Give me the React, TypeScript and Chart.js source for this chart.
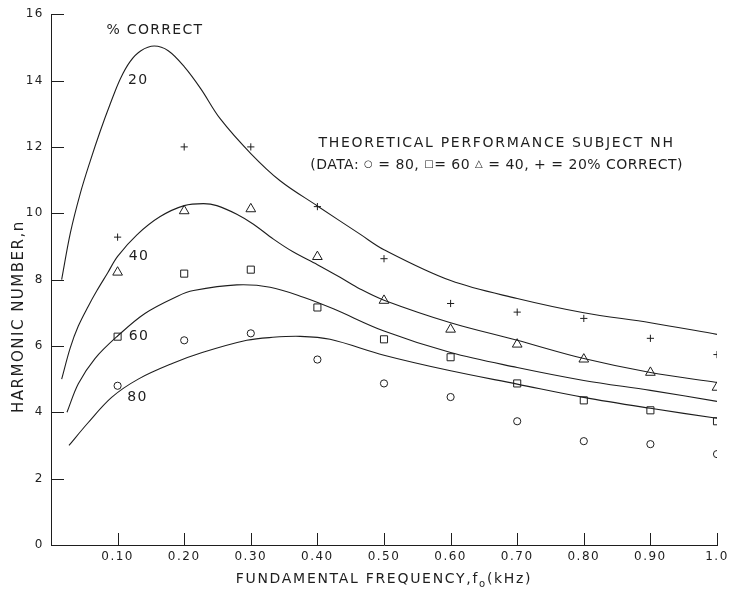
import React, { useEffect, useRef } from 'react';
import { Chart, registerables } from 'chart.js';

Chart.register(...registerables);

// Fundamental frequencies (kHz) at which the subject was tested
const FREQ_KHZ = [0.1, 0.2, 0.3, 0.4, 0.5, 0.6, 0.7, 0.8, 0.9, 1.0];

// Measured harmonic numbers for each performance level
const DATA_80 = [4.8, 6.17, 6.38, 5.59, 4.87, 4.46, 3.73, 3.13, 3.04, 2.74];
const DATA_60 = [6.28, 8.18, 8.3, 7.16, 6.2, 5.66, 4.87, 4.36, 4.06, 3.73];
const DATA_40 = [8.22, 10.07, 10.13, 8.69, 7.37, 6.5, 6.05, 5.6, 5.2, 4.75];
const DATA_20 = [9.28, 12.0, 12.0, 10.2, 8.63, 7.28, 7.02, 6.83, 6.23, 5.74];

// Theoretical performance curves (frequency, harmonic number)
const CURVE_20_X = [0.016, 0.029, 0.044, 0.059, 0.074, 0.089, 0.104, 0.119, 0.135, 0.155, 0.176, 0.2, 0.225, 0.254, 0.3, 0.344, 0.4, 0.464, 0.5, 0.6, 0.7, 0.8, 0.9, 1.0];
const CURVE_20_Y = [8.0, 9.4, 10.6, 11.58, 12.48, 13.3, 14.05, 14.58, 14.9, 15.04, 14.9, 14.42, 13.75, 12.85, 11.8, 10.98, 10.22, 9.37, 8.9, 7.97, 7.43, 7.0, 6.7, 6.35];

const CURVE_40_X = [0.016, 0.029, 0.041, 0.056, 0.069, 0.085, 0.1, 0.129, 0.164, 0.2, 0.229, 0.249, 0.279, 0.304, 0.334, 0.364, 0.4, 0.434, 0.464, 0.5, 0.6, 0.7, 0.8, 0.9, 1.0];
const CURVE_40_Y = [5.0, 5.95, 6.6, 7.2, 7.67, 8.2, 8.7, 9.35, 9.9, 10.23, 10.29, 10.23, 9.97, 9.67, 9.22, 8.83, 8.45, 8.07, 7.72, 7.38, 6.7, 6.17, 5.62, 5.2, 4.9];

const CURVE_60_X = [0.024, 0.041, 0.066, 0.1, 0.141, 0.19, 0.214, 0.279, 0.329, 0.379, 0.424, 0.5, 0.6, 0.7, 0.8, 0.9, 1.0];
const CURVE_60_Y = [4.0, 4.86, 5.62, 6.3, 6.98, 7.5, 7.67, 7.84, 7.77, 7.47, 7.12, 6.45, 5.8, 5.35, 4.96, 4.66, 4.33];

const CURVE_80_X = [0.027, 0.055, 0.091, 0.131, 0.182, 0.227, 0.294, 0.333, 0.374, 0.419, 0.5, 0.6, 0.7, 0.8, 0.9, 1.0];
const CURVE_80_Y = [3.0, 3.67, 4.45, 5.0, 5.47, 5.8, 6.17, 6.26, 6.29, 6.2, 5.72, 5.25, 4.85, 4.45, 4.12, 3.82];

// Curve labels, placed in data coordinates
const LABEL_TEXT = ['% CORRECT', '20', '40', '60', '80'];
const LABEL_X = [0.156, 0.131, 0.132, 0.132, 0.13];
const LABEL_Y = [15.5, 14.0, 8.69, 6.29, 4.45];

const NOTE_TITLE = 'THEORETICAL PERFORMANCE SUBJECT NH';
// second note line: plain text pieces alternate with the marker symbols
const NOTE_KEY = [
  { text: '(DATA: ', symbol: false },
  { text: '\u25CB', symbol: true },
  { text: ' = 80, ', symbol: false },
  { text: '\u25A1', symbol: true },
  { text: '= 60 ', symbol: false },
  { text: '\u25B3', symbol: true },
  { text: ' = 40, + = 20% CORRECT)', symbol: false },
];
const NOTE_X = 0.669;
const NOTE_Y = [12.12, 11.43];

const Y_TITLE = 'HARMONIC NUMBER,n';
const X_TITLE = ['FUNDAMENTAL FREQUENCY,f', 'o', '(kHz)'];

const INK = '#1e1e1e';
const FONT = '"DejaVu Sans", "Liberation Sans", sans-serif';

const toPoints = (xs: number[], ys: number[]) => xs.map((x, i) => ({ x, y: ys[i] }));

const letterSpacingPlugin = {
  id: 'letterSpacing',
  beforeDraw(chart: any) {
    chart.ctx.letterSpacing = '1.5px';
  },
};

// Tick marks that point into the plot area
const innerTicksPlugin = {
  id: 'innerTicks',
  afterDraw(chart: any) {
    const { ctx, chartArea, scales } = chart;
    const xs = scales.x;
    const ys = scales.y;
    ctx.save();
    ctx.strokeStyle = INK;
    ctx.lineWidth = 1;
    ctx.beginPath();
    for (const t of ys.ticks) {
      const py = Math.round(ys.getPixelForValue(t.value)) + 0.5;
      ctx.moveTo(chartArea.left, py);
      ctx.lineTo(chartArea.left + 13, py);
    }
    for (const t of xs.ticks) {
      if (t.value <= 0) continue;
      const px = Math.round(xs.getPixelForValue(t.value)) + 0.5;
      ctx.moveTo(px, chartArea.bottom);
      ctx.lineTo(px, chartArea.bottom - 12);
    }
    ctx.stroke();
    ctx.restore();
  },
};

const textPlugin = {
  id: 'chartText',
  afterDraw(chart: any) {
    const { ctx, chartArea, scales } = chart;
    const xs = scales.x;
    const ys = scales.y;
    ctx.save();
    ctx.fillStyle = INK;
    ctx.textBaseline = 'middle';
    ctx.textAlign = 'center';
    ctx.font = `14px ${FONT}`;
    ctx.letterSpacing = '1.3px';

    LABEL_TEXT.forEach((t, i) => {
      ctx.fillText(t, xs.getPixelForValue(LABEL_X[i]), ys.getPixelForValue(LABEL_Y[i]));
    });

    ctx.letterSpacing = '1.7px';
    ctx.fillText(NOTE_TITLE, xs.getPixelForValue(NOTE_X), ys.getPixelForValue(NOTE_Y[0]));

    // key line with small marker glyphs
    ctx.textAlign = 'left';
    ctx.letterSpacing = '0.5px';
    const textFont = `14px ${FONT}`;
    const symFont = `10px ${FONT}`;
    const widths = NOTE_KEY.map((p) => {
      ctx.font = p.symbol ? symFont : textFont;
      return ctx.measureText(p.text).width;
    });
    const keyWidth = widths.reduce((a, b) => a + b, 0);
    let kx = xs.getPixelForValue(NOTE_X) - keyWidth / 2;
    const ky = ys.getPixelForValue(NOTE_Y[1]);
    NOTE_KEY.forEach((p, i) => {
      ctx.font = p.symbol ? symFont : textFont;
      ctx.fillText(p.text, kx, p.symbol ? ky - 1 : ky);
      kx += widths[i];
    });

    // vertical axis title
    ctx.save();
    ctx.textAlign = 'center';
    ctx.font = `15px ${FONT}`;
    ctx.letterSpacing = '1.5px';
    ctx.translate(19, (chartArea.top + chartArea.bottom) / 2 + 37);
    ctx.rotate(-Math.PI / 2);
    ctx.fillText(Y_TITLE, 0, 0);
    ctx.restore();

    // horizontal axis title with subscript
    ctx.letterSpacing = '1.7px';
    ctx.textAlign = 'left';
    const big = `14px ${FONT}`;
    const small = `10px ${FONT}`;
    ctx.font = big;
    const w0 = ctx.measureText(X_TITLE[0]).width;
    const w2 = ctx.measureText(X_TITLE[2]).width;
    ctx.font = small;
    const w1 = ctx.measureText(X_TITLE[1]).width;
    const total = w0 + w1 + w2;
    const cx = (chartArea.left + chartArea.right) / 2;
    const ty = chartArea.bottom + 34;
    let px = cx - total / 2;
    ctx.font = big;
    ctx.fillText(X_TITLE[0], px, ty);
    px += w0;
    ctx.font = small;
    ctx.fillText(X_TITLE[1], px, ty + 5);
    px += w1;
    ctx.font = big;
    ctx.fillText(X_TITLE[2], px, ty);
    ctx.restore();
  },
};

const curve = (xs: number[], ys: number[]) => ({
  type: 'line' as const,
  data: toPoints(xs, ys),
  showLine: true,
  borderColor: INK,
  borderWidth: 1.1,
  pointRadius: 0,
  tension: 0.35,
  fill: false,
});

const markers = (ys: number[], style: string, radius: number) => ({
  type: 'scatter' as const,
  data: toPoints(FREQ_KHZ, ys),
  showLine: false,
  pointStyle: style,
  pointRadius: radius,
  pointBorderColor: INK,
  pointBackgroundColor: 'rgba(0,0,0,0)',
  pointBorderWidth: 1,
});

export default function App() {
  const canvasRef = useRef<HTMLCanvasElement | null>(null);

  useEffect(() => {
    const canvas = canvasRef.current;
    if (!canvas) return;
    const chart = new Chart(canvas, {
      type: 'scatter',
      data: {
        datasets: [
          curve(CURVE_20_X, CURVE_20_Y),
          curve(CURVE_40_X, CURVE_40_Y),
          curve(CURVE_60_X, CURVE_60_Y),
          curve(CURVE_80_X, CURVE_80_Y),
          markers(DATA_80, 'circle', 3.6),
          markers(DATA_60, 'rect', 5),
          markers(DATA_40, 'triangle', 5.6),
          markers(DATA_20, 'cross', 3.6),
        ] as any,
      },
      options: {
        animation: false,
        responsive: false,
        devicePixelRatio: 1,
        events: [],
        layout: { padding: { top: 13, right: 16, left: 0, bottom: 0 } },
        plugins: {
          legend: { display: false },
          tooltip: { enabled: false },
        },
        scales: {
          x: {
            type: 'linear',
            min: 0,
            max: 1,
            afterFit(s: any) {
              s.height = 53;
            },
            ticks: {
              stepSize: 0.1,
              autoSkip: false,
              maxRotation: 0,
              padding: 5,
              color: INK,
              font: { family: FONT, size: 12 },
              callback: (v: any) => {
                const n = Number(v);
                if (n <= 0.001) return null;
                if (Math.abs(n - 1) < 1e-6) return '1.0';
                return n.toFixed(2);
              },
            },
            grid: { display: false, drawTicks: false },
            border: { display: true, color: INK, width: 1 },
          },
          y: {
            type: 'linear',
            min: 0,
            max: 16,
            afterFit(s: any) {
              s.width = 51;
            },
            ticks: {
              stepSize: 2,
              padding: 7,
              color: INK,
              font: { family: FONT, size: 12 },
            },
            grid: { display: false, drawTicks: false },
            border: { display: true, color: INK, width: 1 },
          },
        },
      } as any,
      plugins: [letterSpacingPlugin, innerTicksPlugin, textPlugin],
    });
    return () => chart.destroy();
  }, []);

  return (
    <div style={{ position: 'fixed', left: 0, top: 0, width: 733, height: 598, background: '#fff' }}>
      <canvas ref={canvasRef} width={733} height={598} style={{ display: 'block' }} />
    </div>
  );
}
